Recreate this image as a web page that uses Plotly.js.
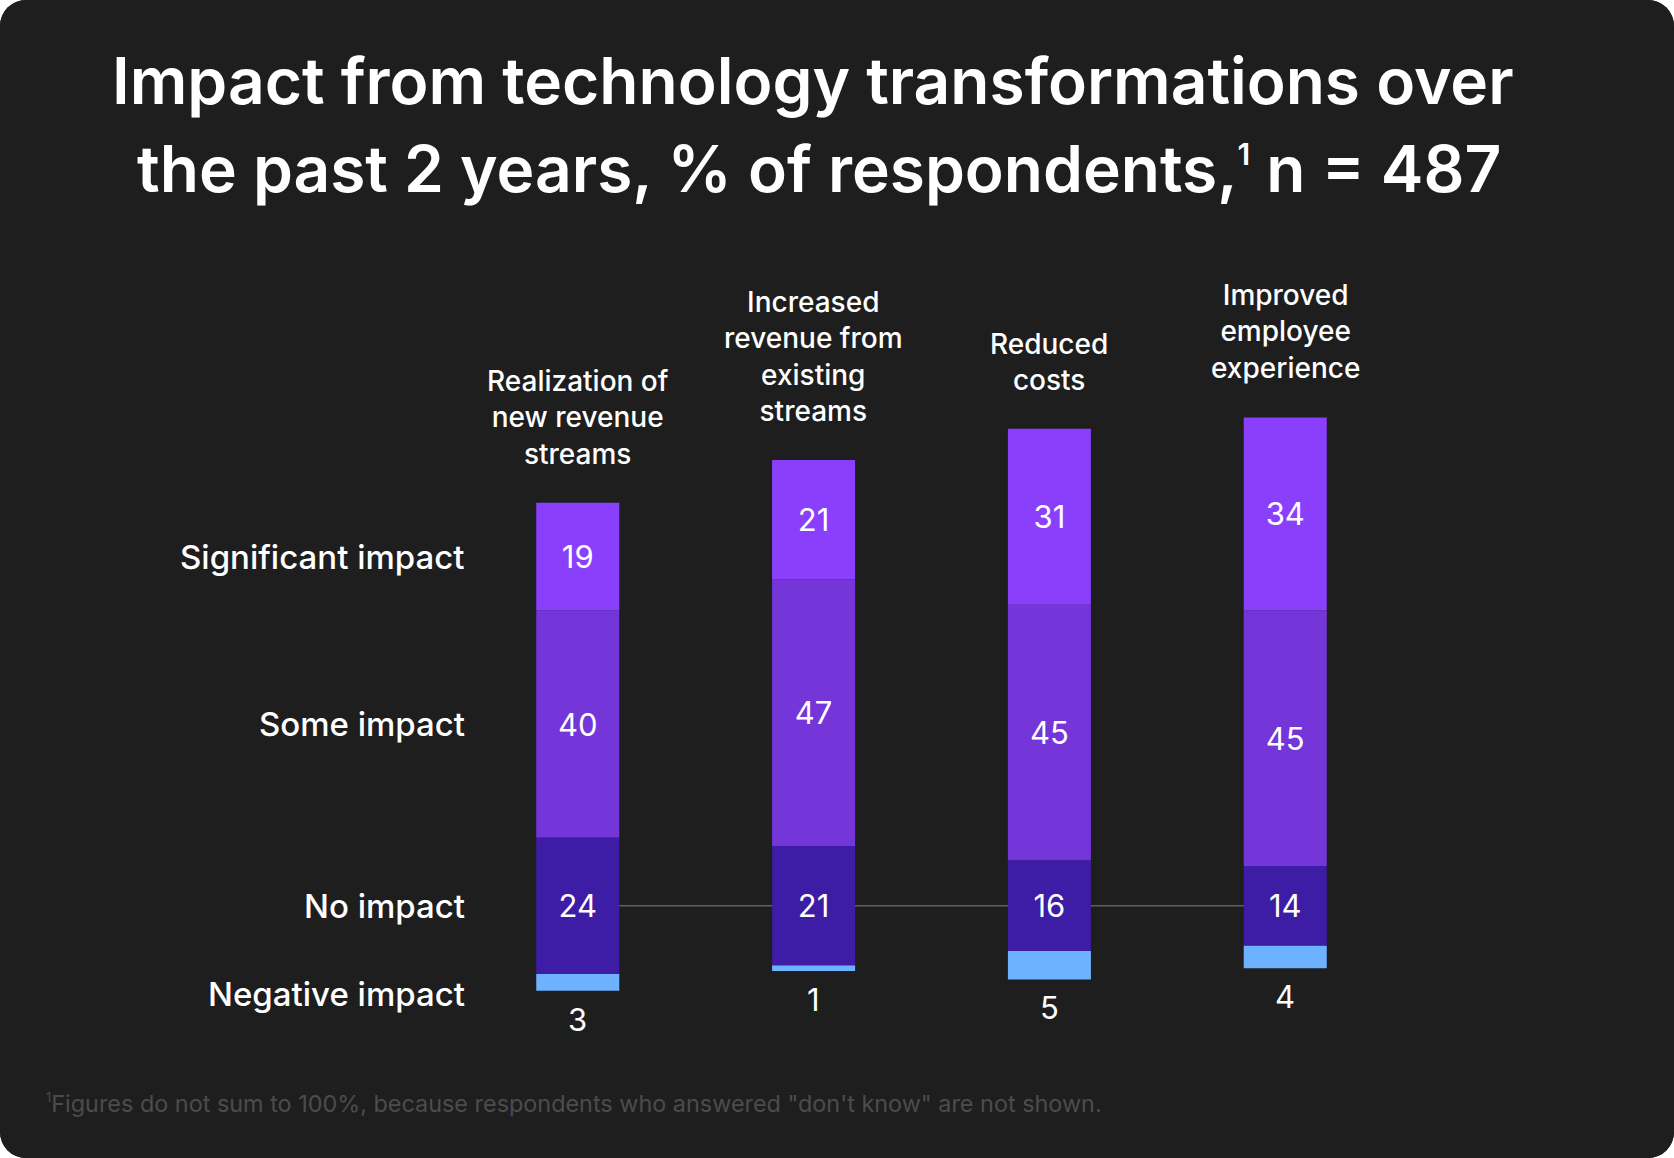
<!DOCTYPE html>
<html>
<head>
<meta charset="utf-8">
<script src="https://cdn.plot.ly/plotly-3.0.1.min.js"></script>
<style>
  html, body { margin: 0; padding: 0; background: #ffffff; }
  #card { width: 1674px; height: 1158px; border-radius: 26px; overflow: hidden; background: #1e1e1e; }
  #chart { width: 1674px; height: 1158px; }
</style>
</head>
<body>
<div id="card"><div id="chart"></div></div>
<script>
// ---- data ----
const categories = [
  "Realization of<br>new revenue<br>streams",
  "Increased<br>revenue from<br>existing<br>streams",
  "Reduced<br>costs",
  "Improved<br>employee<br>experience"
];
const significant = [19, 21, 31, 34];
const someImpact = [40, 47, 45, 45];
const noImpact = [24, 21, 16, 14];
const negative = [3, 1, 5, 4];
const rowLabels = ["Significant impact", "Some impact", "No impact", "Negative impact"];
const titleLines = [
  "Impact from technology transformations over",
  "the past 2 years, % of respondents,<sup><span style=\"font-size:30px\">1</span></sup> n = 487"
];
const footnote = "<sup><span style=\"font-size:13px\">1</span></sup>Figures do not sum to 100%, because respondents who answered \"don't know\" are not shown.";

// ---- derived bases (diverging around the middle of "No impact") ----
const idx = categories.map((_, i) => i);
const negBase = idx.map(i => -(noImpact[i] / 2 + negative[i]));
const noBase = idx.map(i => -noImpact[i] / 2);
const someBase = idx.map(i => noImpact[i] / 2);
const sigBase = idx.map(i => noImpact[i] / 2 + someImpact[i]);
const tops = idx.map(i => sigBase[i] + significant[i]);

const colors = {
  sig: "#8a3ffc",
  some: "#7435d9",
  none: "#3d1ca6",
  neg: "#6cb2ff"
};
const FAM = "Inter, 'Noto Sans', sans-serif";
const BW = 0.352;
const valFont = { family: FAM, size: 31, color: "#ffffff", weight: 400 };

function barTrace(vals, base, color, withText) {
  return {
    type: "bar", x: idx, y: vals, base: base, width: BW,
    marker: { color: color, line: { width: 0 } },
    text: withText ? vals.map(String) : undefined,
    textposition: withText ? "inside" : "none",
    insidetextanchor: "middle",
    constraintext: "none",
    textfont: valFont,
    hoverinfo: "skip",
    showlegend: false
  };
}

const data = [
  barTrace(negative, negBase, colors.neg, false),
  barTrace(noImpact, noBase, colors.none, true),
  barTrace(someImpact, someBase, colors.some, true),
  barTrace(significant, sigBase, colors.sig, true)
];

const annotations = [];
// title lines
const titleY = [1.3485, 1.2293];
const titleX = [0.4165, 0.4205];
titleLines.forEach((t, k) => {
  annotations.push({
    x: titleX[k], y: titleY[k], xref: "paper", yref: "paper",
    text: t, showarrow: false, xanchor: "center", yanchor: "middle",
    font: { family: FAM, size: 64, color: "#ffffff", weight: 600 }
  });
});
// category labels above bars
idx.forEach(i => {
  annotations.push({
    x: i, y: tops[i], xref: "x", yref: "y",
    text: categories[i], showarrow: false,
    xanchor: "center", yanchor: "bottom", yshift: 30,
    align: "center",
    font: { family: FAM, size: 28, color: "#ffffff", weight: 500 }
  });
  // negative values below bars
  annotations.push({
    x: i, y: negBase[i], xref: "x", yref: "y",
    text: String(negative[i]), showarrow: false,
    xanchor: "center", yanchor: "top", yshift: -8,
    font: valFont
  });
});
// row labels (aligned with the first bar's segments)
const rowY = [
  sigBase[0] + significant[0] / 2,
  someBase[0] + someImpact[0] / 2,
  0,
  negBase[0] + negative[0] / 2
];
const rowShift = [0, 0, 0, -12];
rowLabels.forEach((t, k) => {
  annotations.push({
    x: -0.47, y: rowY[k], xref: "x", yref: "y",
    text: t, showarrow: false, xanchor: "right", yanchor: "middle", yshift: rowShift[k],
    font: { family: FAM, size: 33, color: "#ffffff", weight: 500 }
  });
});
// footnote
annotations.push({
  x: -0.1275, y: -0.0379, xref: "paper", yref: "paper",
  text: footnote, showarrow: false, xanchor: "left", yanchor: "middle",
  font: { family: FAM, size: 23.4, color: "#4c4c4c", weight: 400 }
});

const layout = {
  width: 1674, height: 1158,
  paper_bgcolor: "#1e1e1e", plot_bgcolor: "#1e1e1e",
  margin: { l: 224, r: 35, t: 338, b: 82 },
  barmode: "overlay",
  xaxis: { range: [-1.5, 4.5], visible: false, fixedrange: true },
  yaxis: { range: [-30, 100], visible: false, fixedrange: true },
  shapes: [{
    type: "line", xref: "x", yref: "y", x0: 0, x1: 3, y0: 0, y1: 0,
    line: { color: "#5e5e5e", width: 1.5 }, layer: "below"
  }],
  annotations: annotations
};

Plotly.newPlot("chart", data, layout, { displayModeBar: false, staticPlot: true });
</script>
</body>
</html>
